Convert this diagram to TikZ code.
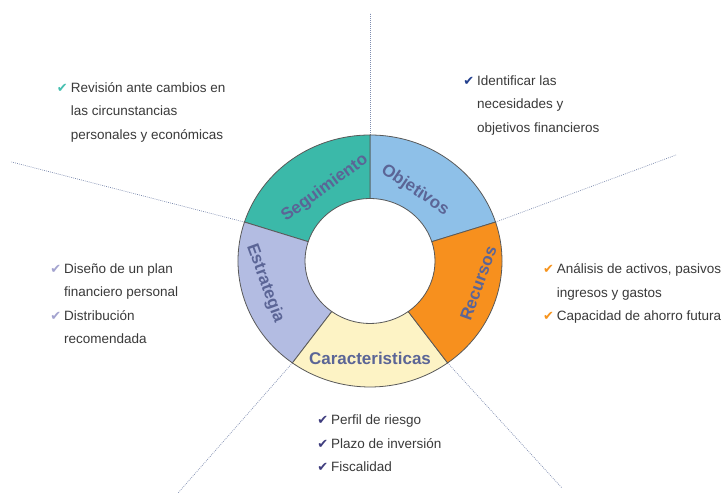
\documentclass[tikz,border=0pt]{standalone}
\usepackage{fontspec}
\setmainfont{Liberation Sans}
\newfontfamily\checkfont{DejaVu Sans}
\usepackage{xcolor}
\usetikzlibrary{calc}

\definecolor{segteal}{HTML}{3BB9A9}
\definecolor{segblue}{HTML}{8EC0E8}
\definecolor{segorange}{HTML}{F7901E}
\definecolor{segcream}{HTML}{FDF3C5}
\definecolor{seglav}{HTML}{B3BCE2}
\definecolor{labblue}{HTML}{5B6596}
\definecolor{txtgray}{HTML}{3A3A3A}
\definecolor{raygray}{HTML}{7F8DB0}
\definecolor{ckteal}{HTML}{45BFB0}
\definecolor{ckblue}{HTML}{23408E}
\definecolor{ckorange}{HTML}{F7941D}
\definecolor{cklav}{HTML}{A3A3CF}
\definecolor{cknavy}{HTML}{3F3D7E}

\newcommand{\chkmark}[1]{\llap{{\checkfont\fontsize{13}{13}\selectfont\color{#1}✔}\hspace{3pt}}}

\begin{document}
\begin{tikzpicture}[
    x=1pt, y=1pt,
    ring/.style={draw=black!65, line width=0.8pt},
    lab/.style={font=\fontsize{17}{17}\selectfont\bfseries, text=labblue, inner sep=0pt},
    item/.style={anchor=north west, align=left, inner sep=0pt, text=txtgray,
                 font=\fontsize{13.5}{23.5}\selectfont},
    ray/.style={raygray, line width=0.7pt, dash pattern=on 0.8pt off 1.2pt}
]
\path[use as bounding box, fill=white] (0,0) rectangle (724,497);
\coordinate (c) at (370,236);

% dotted separators
\coordinate (rayN) at (370,484);
\coordinate (rayNE) at (676,342);
\coordinate (raySE) at (562,9);
\coordinate (raySW) at (178,4);
\coordinate (rayNW) at (11.5,335);
\draw[ray] ($(c)+(90:132pt and 126pt)$) -- (rayN);
\draw[ray] ($(c)+(18:132pt and 126pt)$) -- (rayNE);
\draw[ray] ($(c)+(-54:132pt and 126pt)$) -- (raySE);
\draw[ray] ($(c)+(234:132pt and 126pt)$) -- (raySW);
\draw[ray] ($(c)+(162:132pt and 126pt)$) -- (rayNW);

% ring segments
\foreach \col/\a in {segblue/18, segteal/90, seglav/162, segcream/234, segorange/306}
  \filldraw[ring, fill=\col] ($(c)+(\a:132pt and 126pt)$)
    arc[start angle=\a, delta angle=72, x radius=132pt, y radius=126pt]
    -- ($(c)+({\a+72}:65pt and 62.5pt)$)
    arc[start angle={\a+72}, delta angle=-72, x radius=65pt, y radius=62.5pt] -- cycle;

\node[lab, rotate=36] (seg) at ($(c)+(121.8:85.5pt)$) {Seguimiento};
\node[lab, rotate=-34] (obj) at ($(c)+(57.6:84pt)$) {Objetivos};
\node[lab, rotate=70] (rec) at ($(c)+(-11.6:110.6pt)$) {Recursos};
\node[lab] (car) at ($(c)+(-90:97.3pt)$) {Caracteristicas};
\node[lab, rotate=-70] (est) at ($(c)+(192:107.3pt)$) {Estrategia};

% check lists
\node[item] (segtxt) at (70.6,421.5) {\strut\chkmark{ckteal}Revisión ante cambios en\\las circunstancias\\personales y económicas};
\node[item] (objtxt) at (477,428.5) {\strut\chkmark{ckblue}Identificar las\\necesidades y\\objetivos financieros};
\node[item] (rectxt) at (556.7,239.8) {\strut\chkmark{ckorange}Análisis de activos, pasivos\\ingresos y gastos\\\chkmark{ckorange}Capacidad de ahorro futura};
\node[item] (cartxt) at (331,88.8) {\strut\chkmark{cknavy}Perfil de riesgo\\\chkmark{cknavy}Plazo de inversión\\\chkmark{cknavy}Fiscalidad};
\node[item] (esttxt) at (64,240.5) {\strut\chkmark{cklav}Diseño de un plan\\financiero personal\\\chkmark{cklav}Distribución\\recomendada};
\end{tikzpicture}
\end{document}
